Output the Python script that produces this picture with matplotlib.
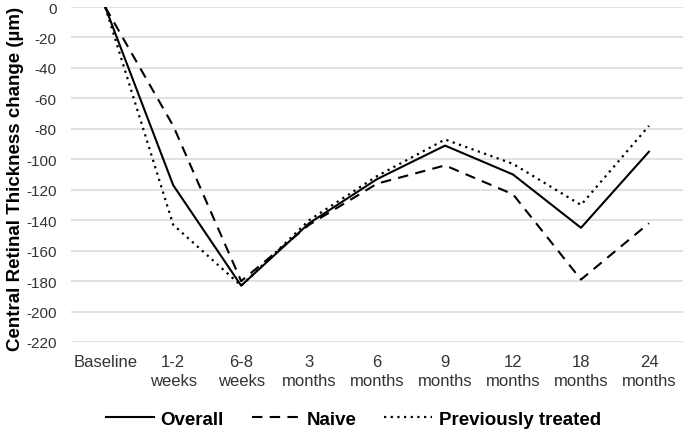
import matplotlib
matplotlib.use("Agg")
import matplotlib.pyplot as plt

plt.rcParams['font.family'] = ['Liberation Sans', 'DejaVu Sans']

categories = ["Baseline", "1-2\nweeks", "6-8\nweeks", "3\nmonths", "6\nmonths",
              "9\nmonths", "12\nmonths", "18\nmonths", "24\nmonths"]
overall = [0, -117, -183, -142, -113, -91, -110, -145, -95]
naive = [0, -78, -180, -143, -116, -104, -123, -179, -142]
previously_treated = [0, -143, -183, -140, -111, -87, -103, -130, -78]
yticks = list(range(0, -221, -20))

fig = plt.figure(figsize=(6.85, 4.35), dpi=100)
ax = fig.add_axes([0.104, 0.2115, 0.893, 0.770])

x = list(range(len(categories)))
l1, = ax.plot(x, overall, color="black", lw=1.5, ls="-", label="Overall")
l2, = ax.plot(x, naive, color="black", lw=1.5, ls=(0, (5, 3.5)), label="Naive")
l3, = ax.plot(x, previously_treated, color="black", lw=1.6, ls=(0, (1, 2)), label="Previously treated")

ax.set_xlim(-0.5, len(categories) - 0.5)
ax.set_ylim(-220, 0)
ax.set_yticks(yticks)
ax.set_yticklabels([str(v) for v in yticks])
ax.set_xticks(x)
ax.set_xticklabels(categories, linespacing=1.3)
ax.tick_params(axis="both", length=0, colors="#333333")
ax.tick_params(axis="y", pad=10.5, labelsize=11)
ax.tick_params(axis="x", pad=9, labelsize=12)
for s in ax.spines.values():
    s.set_visible(False)
ax.grid(axis="y", color="#d9d9d9", lw=1.1)
ax.set_axisbelow(True)

ax.set_ylabel("Central Retinal Thickness change (µm)", fontsize=13.5,
              fontweight="bold", color="black")
ax.yaxis.set_label_coords(-0.077, 0.49)

fig.legend(handles=[l1, l2, l3], loc="center", bbox_to_anchor=(0.516, 0.034),
           ncol=3, frameon=False, prop={"weight": "bold", "size": 13.5},
           handlelength=2.55, columnspacing=1.5, handletextpad=0.35)

fig.savefig("out.png", dpi=100)
